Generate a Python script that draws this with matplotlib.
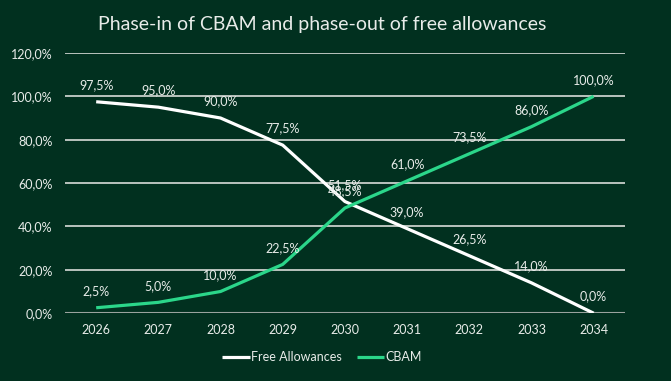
#!/usr/bin/env python

""" phase-in of CBAM vs phase-out of free allowances """

import matplotlib
matplotlib.use("Agg")
import matplotlib.pyplot as plt
from matplotlib.ticker import FuncFormatter

years = ["2026", "2027", "2028", "2029", "2030", "2031", "2032", "2033", "2034"]
free_allowances = [97.5, 95.0, 90.0, 77.5, 51.5, 39.0, 26.5, 14.0, 0.0]
cbam = [2.5, 5.0, 10.0, 22.5, 48.5, 61.0, 73.5, 86.0, 100.0]

BG = "#01301f"
TXT = "#e8ece9"
GREEN = "#2bd68a"


def pct(v):
    return f"{v:.1f}".replace(".", ",") + "%"


def main():
    plt.rcParams['font.family'] = ['Lato', 'DejaVu Sans']
    fig = plt.figure(figsize=(6.71, 3.81), dpi=100, facecolor=BG)
    ax = fig.add_axes([0.097, 0.178, 0.834, 0.683], facecolor=BG)

    x = range(len(years))
    ax.plot(x, free_allowances, color="white", lw=2.3, label="Free Allowances",
            solid_capstyle="butt", zorder=3)
    ax.plot(x, cbam, color=GREEN, lw=2.3, label="CBAM",
            solid_capstyle="butt", zorder=3)

    for i, v in enumerate(free_allowances):
        ax.annotate(pct(v), (i, v), xytext=(0, 12), textcoords="offset points",
                    ha="center", va="center", color=TXT, fontsize=9, zorder=4)
    for i, v in enumerate(cbam):
        ax.annotate(pct(v), (i, v), xytext=(0, 12), textcoords="offset points",
                    ha="center", va="center", color=TXT, fontsize=9, zorder=4)

    ax.set_xlim(-0.5, len(years) - 0.5)
    ax.set_ylim(0, 120)
    ax.set_yticks(range(0, 121, 20))
    ax.yaxis.set_major_formatter(FuncFormatter(lambda v, p: pct(v)))
    ax.set_xticks(list(x))
    ax.set_xticklabels(years)
    ax.tick_params(colors=TXT, labelsize=9, length=0)
    ax.tick_params(axis="x", pad=8)
    ax.tick_params(axis="y", pad=9)

    ax.grid(axis="y", color="#d9dcd9", lw=1.2, zorder=1)
    for s in ax.spines.values():
        s.set_visible(False)
    ax.axhline(0, color="#9aa39e", lw=1.5, zorder=2)

    fig.text(0.48, 0.935, "Phase-in of CBAM and phase-out of free allowances",
             ha="center", va="center", color=TXT, fontsize=14)

    leg = fig.legend(loc="center", bbox_to_anchor=(0.48, 0.062), ncol=2,
                     frameon=False, fontsize=9, handlelength=2.2,
                     handletextpad=0.1, columnspacing=1.2)
    for t in leg.get_texts():
        t.set_color(TXT)

    plt.savefig("out.png", dpi=100, facecolor=BG)
    plt.close()


if __name__ == "__main__":
    main()
